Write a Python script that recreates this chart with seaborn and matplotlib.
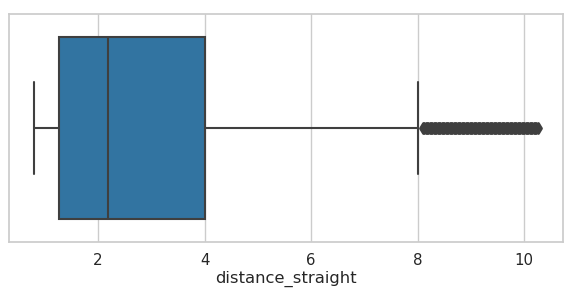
import numpy as np
import pandas as pd
import matplotlib
matplotlib.use("Agg")
import matplotlib.pyplot as plt
from matplotlib.markers import MarkerStyle
import seaborn as sns

# Body of the distribution: representative values and how often each occurs
body_values = [0.80, 1.27, 2.18, 4.00, 8.00]
body_counts = [1, 100, 100, 100, 1]

# Outliers (dense band between ~8.1 and ~10.26)
outlier_values = [
    8.100, 8.125, 8.150, 8.175, 8.200, 8.225, 8.250, 8.275, 8.300, 8.325,
    8.350, 8.375, 8.400, 8.425, 8.450, 8.475, 8.500, 8.525, 8.550, 8.575,
    8.600, 8.625, 8.650, 8.675, 8.700, 8.725, 8.750, 8.775, 8.800, 8.825,
    8.850, 8.875, 8.900, 8.925, 8.950, 8.975, 9.000, 9.025, 9.050, 9.075,
    9.100, 9.125, 9.150, 9.175, 9.200, 9.225, 9.250, 9.275, 9.300, 9.325,
    9.350, 9.375, 9.400, 9.425, 9.450, 9.475, 9.500, 9.525, 9.550, 9.575,
    9.600, 9.625, 9.650, 9.675, 9.700, 9.725, 9.750, 9.775, 9.800, 9.825,
    9.850, 9.875, 9.900, 9.925, 9.950, 9.975, 10.000, 10.025, 10.050, 10.075,
    10.100, 10.125, 10.150, 10.175, 10.200, 10.225, 10.255,
]

values = np.concatenate([np.repeat(body_values, body_counts), outlier_values])
df = pd.DataFrame({"distance_straight": values})

sns.set_theme(style="whitegrid")

fig = plt.figure(figsize=(5.75, 3.05), dpi=100)
ax = fig.add_axes([0.0157, 0.2066, 0.9635, 0.7475])

sns.boxplot(
    data=df, x="distance_straight", ax=ax,
    color="#1f77b4", saturation=0.75, width=0.8, linewidth=1.5,
    fliersize=5.6,
    flierprops={"marker": MarkerStyle("d", joinstyle="round"),
                "markerfacecolor": "#3f3f3f",
                "markeredgecolor": "#3f3f3f",
                "markeredgewidth": 2.0},
)

ax.set_xticks([2, 4, 6, 8, 10])
ax.tick_params(axis="x", labelsize=10.8, colors="#262626", pad=2)
ax.set_xlabel("distance_straight", fontsize=11.8, color="#262626", labelpad=2)
ax.set_ylabel("")

fig.savefig("out.png", dpi=100)
